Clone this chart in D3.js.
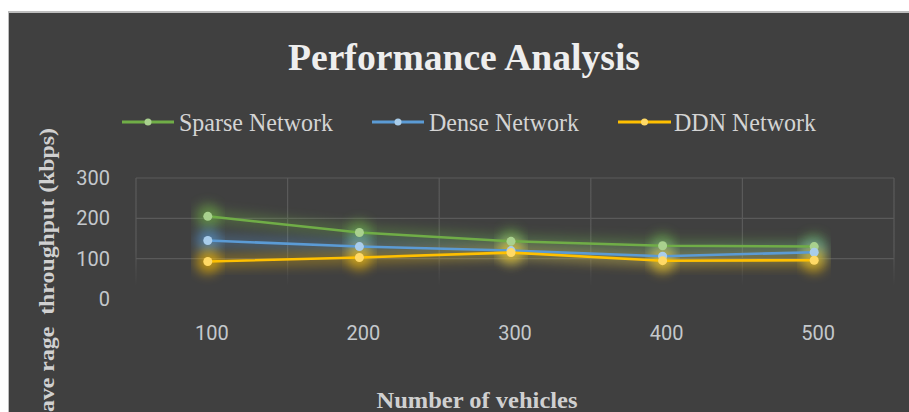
<!DOCTYPE html>
<html><head><meta charset="utf-8">
<script src="https://cdn.jsdelivr.net/npm/d3@7"></script>
<style>
html,body{margin:0;padding:0;background:#fff;}
svg{display:block;}
text{white-space:pre;}
</style></head>
<body>
<svg id="chart" width="909" height="412"></svg>
<script>
const categories = ["100", "200", "300", "400", "500"];
const sparseValues = [205, 165, 143, 132, 130];
const denseValues = [145, 130, 120, 106, 116];
const ddnValues = [93, 103, 115, 95, 96];
const yTicks = [0, 100, 200, 300];
const seriesNames = ["Sparse Network", "Dense Network", "DDN Network"];
const seriesColors = ["#70AD47", "#5B9BD5", "#FFC000"];
const markerColors = ["#A9D18E", "#A9CDEB", "#FFD966"];
const titleText = "Performance Analysis";
const xTitle = "Number of vehicles";
const yTitle = "ave rage  throughput (kbps)";

const series = [sparseValues, denseValues, ddnValues].map((v, i) => ({
  name: seriesNames[i], color: seriesColors[i], marker: markerColors[i], values: v
}));

const svg = d3.select("#chart");
const defs = svg.append("defs");
const glow = defs.append("filter").attr("id", "glow")
  .attr("x", "-20%").attr("y", "-150%").attr("width", "140%").attr("height", "400%");
glow.append("feGaussianBlur").attr("stdDeviation", 6);

const grad = defs.append("linearGradient").attr("id", "vfade")
  .attr("gradientUnits", "userSpaceOnUse").attr("x1", 0).attr("x2", 0).attr("y1", 250).attr("y2", 286);
grad.append("stop").attr("offset", 0).attr("stop-color", "#5a5a5a").attr("stop-opacity", 1);
grad.append("stop").attr("offset", 1).attr("stop-color", "#5a5a5a").attr("stop-opacity", 0);

// panel
svg.append("rect").attr("x", 8).attr("y", 11).attr("width", 901).attr("height", 401).attr("fill", "#bdbdbd");
svg.append("rect").attr("x", 9).attr("y", 13).attr("width", 900).attr("height", 399).attr("fill", "#404040");

const x = d3.scaleBand().domain(categories).range([136, 894]);
const y = d3.scaleLinear().domain([0, 300]).range([299, 178]);

// gridlines
const g = svg.append("g");
g.selectAll("line.h").data(yTicks.filter(t => t > 0)).join("line")
  .attr("x1", 136).attr("x2", 894)
  .attr("y1", d => y(d)).attr("y2", d => y(d))
  .attr("stroke", "#5a5a5a").attr("stroke-width", 1.2);
const vEdges = categories.map(c => x(c)).concat([x.range()[1]]);
g.selectAll("line.v").data(vEdges).join("line")
  .attr("x1", d => d).attr("x2", d => d)
  .attr("y1", y(300)).attr("y2", 286)
  .attr("stroke", "url(#vfade)").attr("stroke-width", 1.2);

// axes labels
const yAxis = d3.axisLeft(y).tickValues(yTicks).tickSize(0).tickPadding(0);
const ya = svg.append("g").attr("transform", "translate(110,0)").call(yAxis);
ya.select(".domain").remove();
ya.selectAll("text").attr("font-family", "Roboto, 'Open Sans', sans-serif")
  .attr("font-size", 20).attr("fill", "#c4c8cc");

const xAxis = d3.axisBottom(x).tickSize(0).tickPadding(0);
const xa = svg.append("g").attr("transform", "translate(0,326)").call(xAxis);
xa.select(".domain").remove();
xa.selectAll("text").attr("font-family", "Roboto, 'Open Sans', sans-serif")
  .attr("font-size", 20).attr("fill", "#c4c8cc");

// lines
const px = (d, i) => x(categories[i]) + x.bandwidth() / 2 - 4;
const line = d3.line().x(px).y(d => y(d));
const sg = svg.append("g");
series.forEach(s => {
  const gg = sg.append("g");
  gg.append("path").attr("d", line(s.values)).attr("fill", "none")
    .attr("stroke", s.color).attr("stroke-width", 12).attr("opacity", 0.35).attr("filter", "url(#glow)");
  gg.selectAll("circle.glow").data(s.values).join("circle")
    .attr("cx", px).attr("cy", d => y(d))
    .attr("r", 12).attr("fill", s.color).attr("opacity", 0.6).attr("filter", "url(#glow)");
});
series.forEach(s => {
  const gg = sg.append("g");
  gg.append("path").attr("d", line(s.values)).attr("fill", "none")
    .attr("stroke", s.color).attr("stroke-width", 2.6);
  gg.selectAll("circle.m").data(s.values).join("circle")
    .attr("cx", px).attr("cy", d => y(d))
    .attr("r", 4.5).attr("fill", s.marker);
});

// title
svg.append("text").attr("x", 464).attr("y", 70).attr("text-anchor", "middle")
  .attr("font-family", "'Liberation Serif', 'Times New Roman', serif").attr("font-weight", "bold")
  .attr("font-size", 37).attr("fill", "#eeeeee")
  .attr("textLength", 352).attr("lengthAdjust", "spacingAndGlyphs").text(titleText);

// legend
const legendItems = [
  {lx1: 122, lx2: 174, tx: 179, tw: 154},
  {lx1: 372, lx2: 424, tx: 429, tw: 150},
  {lx1: 618, lx2: 671, tx: 674, tw: 142}
];
const lg = svg.append("g");
series.forEach((s, i) => {
  const it = legendItems[i];
  lg.append("line").attr("x1", it.lx1).attr("x2", it.lx2).attr("y1", 122).attr("y2", 122)
    .attr("stroke", s.color).attr("stroke-width", 3);
  lg.append("circle").attr("cx", (it.lx1 + it.lx2) / 2).attr("cy", 122).attr("r", 3.5).attr("fill", s.marker);
  lg.append("text").attr("x", it.tx).attr("y", 131)
    .attr("font-family", "'Liberation Serif', 'Times New Roman', serif")
    .attr("font-size", 25).attr("fill", "#d4d4d4")
    .attr("textLength", it.tw).attr("lengthAdjust", "spacingAndGlyphs").text(s.name);
});

// axis titles
svg.append("text").attr("x", 477).attr("y", 408).attr("text-anchor", "middle")
  .attr("font-family", "'Liberation Serif', 'Times New Roman', serif").attr("font-weight", "bold")
  .attr("font-size", 23).attr("fill", "#d0d0d0")
  .attr("textLength", 201).attr("lengthAdjust", "spacingAndGlyphs").text(xTitle);

svg.append("text").attr("transform", "translate(54,412) rotate(-90)").attr("x", 0).attr("y", 0)
  .attr("font-family", "'Liberation Serif', 'Times New Roman', serif").attr("font-weight", "bold")
  .attr("font-size", 22).attr("fill", "#d0d0d0")
  .attr("textLength", 284).attr("lengthAdjust", "spacingAndGlyphs").text(yTitle);
</script>
</body></html>
